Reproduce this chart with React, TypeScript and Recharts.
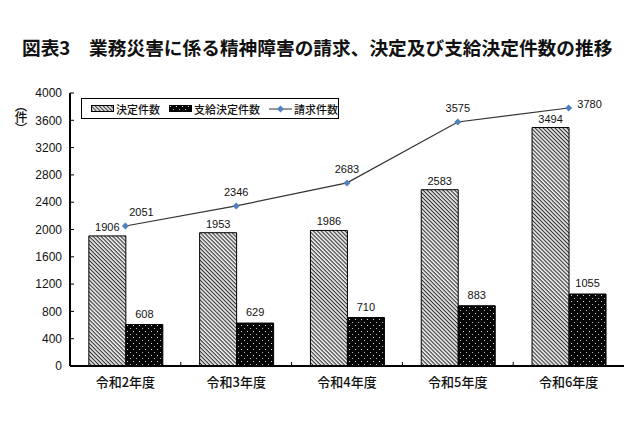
import React from 'react';
import { ComposedChart, Bar, Line, XAxis, YAxis, Legend, LabelList } from 'recharts';

const categories = ['令和2年度', '令和3年度', '令和4年度', '令和5年度', '令和6年度'];
const decided = [1906, 1953, 1986, 2583, 3494];
const approved = [608, 629, 710, 883, 1055];
const claims = [2051, 2346, 2683, 3575, 3780];
const yTicks = [0, 400, 800, 1200, 1600, 2000, 2400, 2800, 3200, 3600, 4000];

const data = categories.map((name, i) => ({
  name,
  decided: decided[i],
  approved: approved[i],
  claims: claims[i],
}));

const CJK = '"Noto Sans CJK JP", "Noto Sans", sans-serif';
const NUM = '"Liberation Sans", Arial, sans-serif';
const X_TICK_MARGIN = 10;

const XTick = (props: any) => {
  const { x, y, payload, index, visibleTicksCount, width } = props;
  const band = width / visibleTicksCount;
  const axisY = y - X_TICK_MARGIN;
  return (
    <g>
      {index < visibleTicksCount - 1 && (
        <line x1={x + band / 2} x2={x + band / 2} y1={axisY} y2={axisY - 4} stroke="#000" strokeWidth={1} />
      )}
      <text x={x} y={y} dy={11} textAnchor="middle" fontFamily={CJK} fontSize={13} fontWeight={500} fill="#111">
        {payload.value}
      </text>
    </g>
  );
};

const Diamond = (props: any) => {
  const { cx, cy } = props;
  if (cx == null || cy == null) return null;
  const s = 3.5;
  return <path d={`M${cx},${cy - s}L${cx + s},${cy}L${cx},${cy + s}L${cx - s},${cy}Z`} fill="#4f81bd" stroke="none" />;
};

const ClaimLabel = (props: any) => {
  const { x, y, value, index } = props;
  let dx = 0;
  let dy = -13;
  if (index === 0) { dx = 16; dy = -13; }
  if (index === claims.length - 1) { dx = 21; dy = -3; }
  return (
    <text x={x + dx} y={y + dy} textAnchor="middle" dominantBaseline="middle" fontFamily={NUM} fontSize={11} fill="#111">
      {value}
    </text>
  );
};

const LegendBox = () => (
  <div
    style={{
      border: '1px solid #000',
      width: 258,
      height: 21,
      boxSizing: 'border-box',
      display: 'flex',
      alignItems: 'center',
      fontSize: 11,
      fontWeight: 500,
      fontFamily: CJK,
      background: '#fff',
      paddingLeft: 9,
      color: '#111',
      whiteSpace: 'nowrap',
    }}
  >
    <svg width={24} height={8} style={{ marginRight: 2 }}>
      <rect x={0.5} y={0.5} width={22} height={6} fill="url(#hatchPat)" stroke="#000" />
    </svg>
    <span style={{ marginRight: 9 }}>決定件数</span>
    <svg width={24} height={8} style={{ marginRight: 2 }}>
      <rect x={0.5} y={0.5} width={22} height={6} fill="url(#dotPat)" stroke="#000" />
    </svg>
    <span style={{ marginRight: 9 }}>支給決定件数</span>
    <svg width={24} height={8} style={{ marginRight: 2 }}>
      <line x1={0} x2={23} y1={4} y2={4} stroke="#333" strokeWidth={1} />
      <path d="M11.5,0.5L15,4L11.5,7.5L8,4Z" fill="#4f81bd" />
    </svg>
    <span>請求件数</span>
  </div>
);

export default function App() {
  return (
    <div style={{ position: 'absolute', left: 0, top: 0, width: 640, height: 425, background: '#fff' }}>
      <div
        style={{
          position: 'absolute',
          left: 22,
          top: 34,
          fontFamily: CJK,
          fontWeight: 'bold',
          fontSize: 18.7,
          color: '#111',
          whiteSpace: 'nowrap',
          lineHeight: '26px',
        }}
      >
        図表3　業務災害に係る精神障害の請求、決定及び支給決定件数の推移
      </div>
      <svg width={40} height={50} style={{ position: 'absolute', left: 1, top: 98 }}>
        <text
          x={20}
          y={2}
          writingMode="vertical-rl"
          style={{ writingMode: 'vertical-rl' } as any}
          letterSpacing={-1.5}
          fontFamily={CJK}
          fontSize={12.5}
          fontWeight={500}
          fill="#111"
        >
          （件）
        </text>
      </svg>
      <ComposedChart
        width={640}
        height={425}
        data={data}
        margin={{ top: 93, right: 16, bottom: 29, left: 0 }}
        barGap={0}
        barCategoryGap="17%"
      >
        <defs>
          <pattern id="hatchPat" patternUnits="userSpaceOnUse" width={2.8} height={2.8} patternTransform="rotate(45)">
            <rect x={0} y={0} width={2.8} height={2.8} fill="#eeeeee" />
            <rect x={0} y={0} width={2.8} height={1.1} fill="#333" />
          </pattern>
          <pattern id="dotPat" patternUnits="userSpaceOnUse" width={6} height={6}>
            <rect x={0} y={0} width={6} height={6} fill="#050505" />
            <rect x={1} y={1} width={1} height={1} fill="#ddd" />
            <rect x={4} y={4} width={1} height={1} fill="#bbb" />
          </pattern>
        </defs>
        <XAxis
          dataKey="name"
          height={30}
          tickLine={false}
          tickSize={0}
          tickMargin={X_TICK_MARGIN}
          axisLine={{ stroke: '#000', strokeWidth: 2 }}
          tick={<XTick />}
          interval={0}
        />
        <XAxis
          xAxisId="top"
          dataKey="name"
          orientation="top"
          height={0}
          tick={false}
          tickLine={false}
          axisLine={{ stroke: '#000', strokeWidth: 2 }}
        />
        <YAxis
          width={70}
          domain={[0, 4000]}
          ticks={yTicks}
          interval={0}
          tickSize={-4}
          tickMargin={12}
          axisLine={{ stroke: '#000', strokeWidth: 2 }}
          tickLine={{ stroke: '#000' }}
          tick={{ fontFamily: NUM, fontSize: 12, fill: '#111' }}
        />
        <YAxis
          yAxisId="right"
          orientation="right"
          width={0}
          domain={[0, 4000]}
          tick={false}
          tickLine={false}
          axisLine={{ stroke: '#000', strokeWidth: 2 }}
        />
        <Legend
          layout="horizontal"
          verticalAlign="middle"
          align="center"
          content={<LegendBox />}
          wrapperStyle={{ position: 'absolute', left: 81, top: 98, width: 258, height: 21 }}
        />
        <Bar dataKey="decided" name="決定件数" fill="url(#hatchPat)" stroke="#000" strokeWidth={1} isAnimationActive={false}>
          <LabelList dataKey="decided" position="top" offset={5} style={{ fontFamily: NUM, fontSize: 11, fill: '#111' }} />
        </Bar>
        <Bar dataKey="approved" name="支給決定件数" fill="url(#dotPat)" stroke="#000" strokeWidth={1} isAnimationActive={false}>
          <LabelList dataKey="approved" position="top" offset={7} style={{ fontFamily: NUM, fontSize: 11, fill: '#111' }} />
        </Bar>
        <Line
          dataKey="claims"
          name="請求件数"
          stroke="#333"
          strokeWidth={1.2}
          dot={<Diamond />}
          activeDot={false}
          isAnimationActive={false}
        >
          <LabelList dataKey="claims" content={<ClaimLabel />} />
        </Line>
      </ComposedChart>
    </div>
  );
}
